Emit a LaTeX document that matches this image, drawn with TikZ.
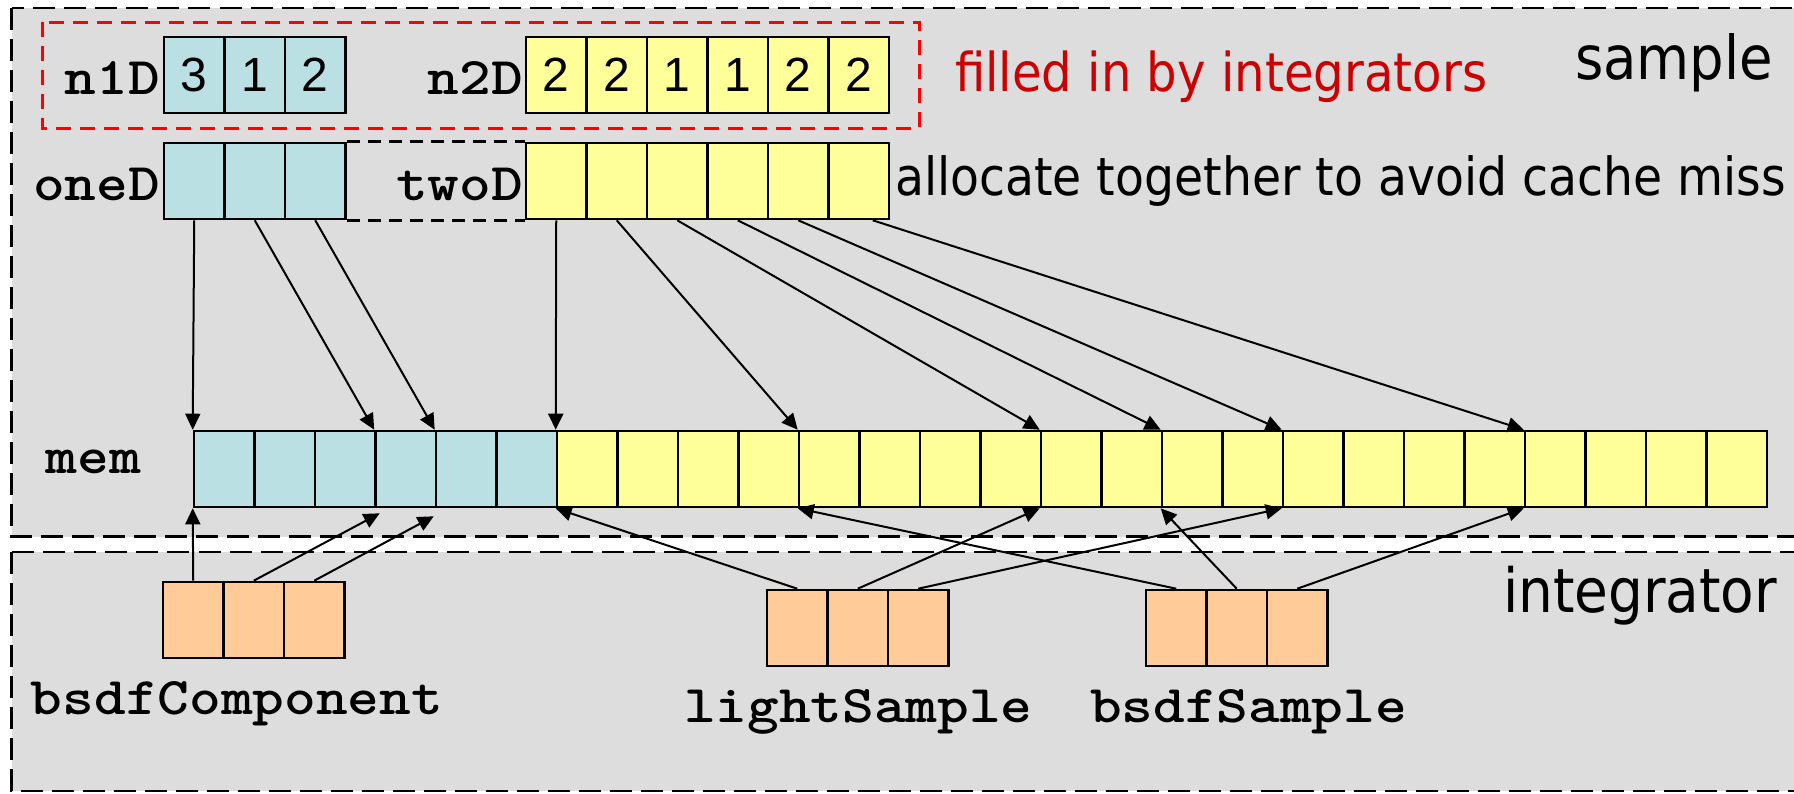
\documentclass[tikz,border=0pt]{standalone}
\usepackage{fontspec}
\usepackage{graphicx}
\usetikzlibrary{arrows.meta,calc}

\newfontfamily\labelfont[FakeStretch=0.9]{DejaVu Sans}
\newfontfamily\digitfont{Liberation Sans}

\definecolor{panelgray}{RGB}{221,221,221}
\definecolor{cellblue}{RGB}{187,224,227}
\definecolor{cellyellow}{RGB}{255,255,153}
\definecolor{cellorange}{RGB}{255,204,153}
\definecolor{notered}{RGB}{204,0,0}

% bold typewriter identifiers, widened to Courier proportions
\newcommand\codelabel[1]{\scalebox{1.139}[1]{\ttfamily\bfseries\fontsize{26.5pt}{30pt}\selectfont #1}}
% sans annotation set to a given width
\newcommand\sanslabel[2]{\resizebox{#1}{!}{\labelfont #2}}

\begin{document}
\begin{tikzpicture}[x=0.5pt,y=-0.5pt,
  panel/.style={draw=black, fill=panelgray, line width=1.35pt, dash pattern=on 11pt off 4.5pt},
  redbox/.style={draw=red, line width=1.5pt, dash pattern=on 7.5pt off 4.5pt},
  linkdash/.style={draw=black, line width=1.3pt, dash pattern=on 6.5pt off 4pt},
  cell/.style={draw=black, line width=1.3pt, rectangle, inner sep=0pt,
    minimum width=30.25pt, minimum height=38pt,
    font=\digitfont\fontsize{24pt}{28pt}\selectfont},
  ptr/.style={draw=black, line width=1pt, -{Triangle[length=8pt,width=7.5pt]}},
  txt/.style={inner sep=0pt, outer sep=0pt}
]
\useasboundingbox (0,0) rectangle (1794,793);
\clip (0,0) rectangle (1794,793);
\fill[white] (0,0) rectangle (1794,793);

% the two panels
\draw[panel] (11.5,8) rectangle (1830,536.5);
\draw[panel] (11.5,552) rectangle (1830,791);

% region written by the integrators
\draw[redbox] (42,22) rectangle (919,128);

% sample counts
\foreach \v [count=\i from 0] in {3,1,2}
  \node[cell, fill=cellblue] (n1D\i) at ({164+30.25+60.5*\i},75) {\v};
\foreach \v [count=\i from 0] in {2,2,1,1,2,2}
  \node[cell, fill=cellyellow] (n2D\i) at ({526+30.25+60.5*\i},75) {\v};

% pointer arrays
\foreach \i in {0,...,2}
  \node[cell, fill=cellblue] (oneD\i) at ({164+30.25+60.5*\i},181) {};
\foreach \i in {0,...,5}
  \node[cell, fill=cellyellow] (twoD\i) at ({526+30.25+60.5*\i},181) {};

% sample memory
\foreach \i in {0,...,5}
  \node[cell, fill=cellblue] (mem\i) at ({194+30.25+60.5*\i},469) {};
\foreach \i in {6,...,25}
  \node[cell, fill=cellyellow] (mem\i) at ({194+30.25+60.5*\i},469) {};

% integrator side arrays
\foreach \i in {0,...,2}
  \node[cell, fill=cellorange] (bc\i) at ({163+30.25+60.5*\i},620) {};
\foreach \i in {0,...,2}
  \node[cell, fill=cellorange] (ls\i) at ({767+30.25+60.5*\i},628) {};
\foreach \i in {0,...,2}
  \node[cell, fill=cellorange] (bs\i) at ({1146+30.25+60.5*\i},628) {};

% oneD and twoD are allocated as one block
\draw[linkdash] (oneD2.north east) -- (twoD0.north west);
\draw[linkdash] (oneD2.south east) -- (twoD0.south west);

% identifiers
\node[txt, anchor=base east] (ln1D) at (160,94) {\codelabel{n1D}};
\node[txt, anchor=base east] (ln2D) at (523,94) {\codelabel{n2D}};
\node[txt, anchor=base east] (loneD) at (160,200) {\codelabel{oneD}};
\node[txt, anchor=base east] (ltwoD) at (523,200) {\codelabel{twoD}};
\node[txt, anchor=base west] (lmem) at (46,473) {\codelabel{mem}};
\node[txt, anchor=base west] (lbc) at (31,714) {\codelabel{bsdfComponent}};
\node[txt, anchor=base west] (lls) at (684,722) {\codelabel{lightSample}};
\node[txt, anchor=base west] (lbs) at (1090,722) {\codelabel{bsdfSample}};

% annotations
\node[txt, anchor=base west, text=notered] (note) at (955,91) {\sanslabel{266pt}{filled in by integrators}};
\node[txt, anchor=base west] (alloc) at (895,195) {\sanslabel{445.5pt}{allocate together to avoid cache miss}};
\node[txt, anchor=base west] (tsample) at (1575,79) {\sanslabel{99pt}{sample}};
\node[txt, anchor=base west] (tintegrator) at (1503,612) {\sanslabel{137pt}{integrator}};

% pointers into mem from the sample
\draw[ptr] (oneD0.south) -- (mem0.north west);
\draw[ptr] (oneD1.south) -- (mem3.north west);
\draw[ptr] (oneD2.south) -- (mem4.north west);
\draw[ptr] (twoD0.south) -- (mem6.north west);
\draw[ptr] (twoD1.south) -- (mem10.north west);
\draw[ptr] (twoD2.south) -- (mem14.north west);
\draw[ptr] (twoD3.south) -- (mem16.north west);
\draw[ptr] (twoD4.south) -- (mem18.north west);
\draw[ptr] ($(twoD5.south)+(14,0)$) -- (mem22.north west);

% pointers into mem from the integrator
\draw[ptr] (bc0.north) -- (mem0.south west);
\draw[ptr] (bc1.north) -- ($(mem3.south west)+(5.5,5)$);
\draw[ptr] (bc2.north) -- ($(mem4.south west)+(-1,8)$);
\draw[ptr] (ls0.north) -- (mem6.south west);
\draw[ptr] (ls1.north) -- (mem14.south west);
\draw[ptr] (ls2.north) -- (mem18.south west);
\draw[ptr] (bs0.north) -- (mem10.south west);
\draw[ptr] (bs1.north) -- (mem16.south west);
\draw[ptr] (bs2.north) -- (mem22.south west);
\end{tikzpicture}
\end{document}
